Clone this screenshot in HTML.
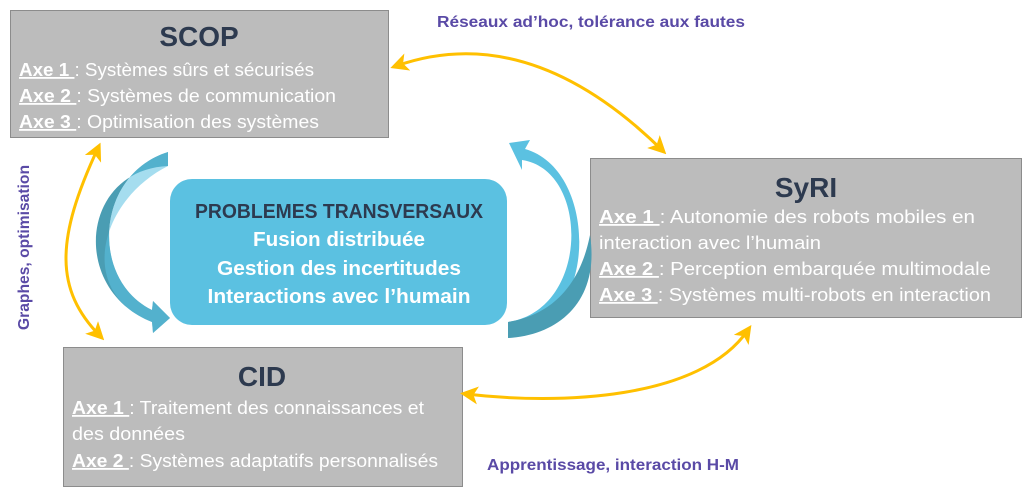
<!DOCTYPE html>
<html><head><meta charset="utf-8"><style>
html,body{margin:0;padding:0;background:#fff;}
svg{display:block;font-family:"Liberation Sans",sans-serif;}
.t{font-weight:bold;fill:#2d3a4f;font-size:28px;text-anchor:middle}
.a{fill:#fff;font-size:18px}
.u{text-decoration:underline;font-weight:bold}
.c{fill:#fff;font-weight:bold;font-size:20px;text-anchor:middle}
.l{fill:#5a4aa6;font-weight:bold;font-size:16px}
</style></head><body>
<svg width="1024" height="487" viewBox="0 0 1024 487">
<defs>
<marker id="ah" markerWidth="6" markerHeight="6" refX="4" refY="3" orient="auto-start-reverse" markerUnits="strokeWidth">
<path d="M0,0 L6,3 L0,6 L1.5,3 Z" fill="#ffc000"/></marker>
</defs>
<rect x="10.5" y="10.5" width="378" height="127" fill="#bcbcbc" stroke="#8c8c8c"/>
<rect x="590.5" y="158.5" width="431" height="159" fill="#bcbcbc" stroke="#8c8c8c"/>
<rect x="63.5" y="347.5" width="399" height="139" fill="#bcbcbc" stroke="#8c8c8c"/>
<rect x="170" y="179" width="337" height="146" rx="22" fill="#5bc1e1"/>
<path d="M168,152 C95,175 90,280 152,310 L153,301 L170,318 L153,333 L152,322 C70,290 80,170 168,166 Z" fill="#4a9db3"/>
<path d="M168,152 C95,175 90,280 152,310 L153,301 L170,318 L153,333 L152,322 C75,292 100,200 168,166 Z" fill="#5bc1e1" opacity="0.55"/>
<path d="M508,322 C590,310 590,170 522,160 L522,170 L509,143 L530,140 L525,149 C600,170 600,330 508,338 Z" fill="#5bc1e1"/>
<path d="M508,322 C570,312 585,260 590,235 C600,300 560,335 508,338 Z" fill="#4a9db3"/>
<path d="M396,66 C470,40 560,50 662,150" fill="none" stroke="#ffc000" stroke-width="3" marker-start="url(#ah)" marker-end="url(#ah)"/>
<path d="M98,148 C55,240 55,290 100,336" fill="none" stroke="#ffc000" stroke-width="3" marker-start="url(#ah)" marker-end="url(#ah)"/>
<path d="M466,394 C560,405 700,400 748,330" fill="none" stroke="#ffc000" stroke-width="3" marker-start="url(#ah)" marker-end="url(#ah)"/>
<text class="t" x="199" y="46">SCOP</text>
<text class="a" x="19" y="76" textLength="295" lengthAdjust="spacingAndGlyphs"><tspan class="u">Axe 1 </tspan>: Systèmes sûrs et sécurisés</text>
<text class="a" x="19" y="102" textLength="317" lengthAdjust="spacingAndGlyphs"><tspan class="u">Axe 2 </tspan>: Systèmes de communication</text>
<text class="a" x="19" y="128" textLength="300" lengthAdjust="spacingAndGlyphs"><tspan class="u">Axe 3 </tspan>: Optimisation des systèmes</text>
<text class="t" x="806" y="197">SyRI</text>
<text class="a" x="599" y="223" textLength="376" lengthAdjust="spacingAndGlyphs"><tspan class="u">Axe 1 </tspan>: Autonomie des robots mobiles en</text>
<text class="a" x="599" y="249" textLength="222" lengthAdjust="spacingAndGlyphs">interaction avec l’humain</text>
<text class="a" x="599" y="275" textLength="392" lengthAdjust="spacingAndGlyphs"><tspan class="u">Axe 2 </tspan>: Perception  embarquée multimodale</text>
<text class="a" x="599" y="301" textLength="392" lengthAdjust="spacingAndGlyphs"><tspan class="u">Axe 3 </tspan>: Systèmes multi-robots en interaction</text>
<text class="t" x="262" y="386">CID</text>
<text class="a" x="72" y="414" textLength="352" lengthAdjust="spacingAndGlyphs"><tspan class="u">Axe 1 </tspan>: Traitement des connaissances et</text>
<text class="a" x="72" y="440" textLength="113" lengthAdjust="spacingAndGlyphs">des données</text>
<text class="a" x="72" y="467" textLength="366" lengthAdjust="spacingAndGlyphs"><tspan class="u">Axe 2 </tspan>: Systèmes adaptatifs personnalisés</text>
<text class="c" x="339" y="218" style="fill:#2d3a4f" textLength="288" lengthAdjust="spacingAndGlyphs">PROBLEMES TRANSVERSAUX</text>
<text class="c" x="339" y="246" textLength="172" lengthAdjust="spacingAndGlyphs">Fusion distribuée</text>
<text class="c" x="339" y="275" textLength="244" lengthAdjust="spacingAndGlyphs">Gestion des incertitudes</text>
<text class="c" x="339" y="303" textLength="263" lengthAdjust="spacingAndGlyphs">Interactions avec l’humain</text>
<text class="l" x="437" y="27" textLength="308" lengthAdjust="spacingAndGlyphs">Réseaux ad’hoc, tolérance aux fautes</text>
<text class="l" x="487" y="470" textLength="252" lengthAdjust="spacingAndGlyphs">Apprentissage, interaction H-M</text>
<text class="l" transform="translate(29,330) rotate(-90)" textLength="165" lengthAdjust="spacingAndGlyphs">Graphes, optimisation</text>
</svg>
</body></html>
